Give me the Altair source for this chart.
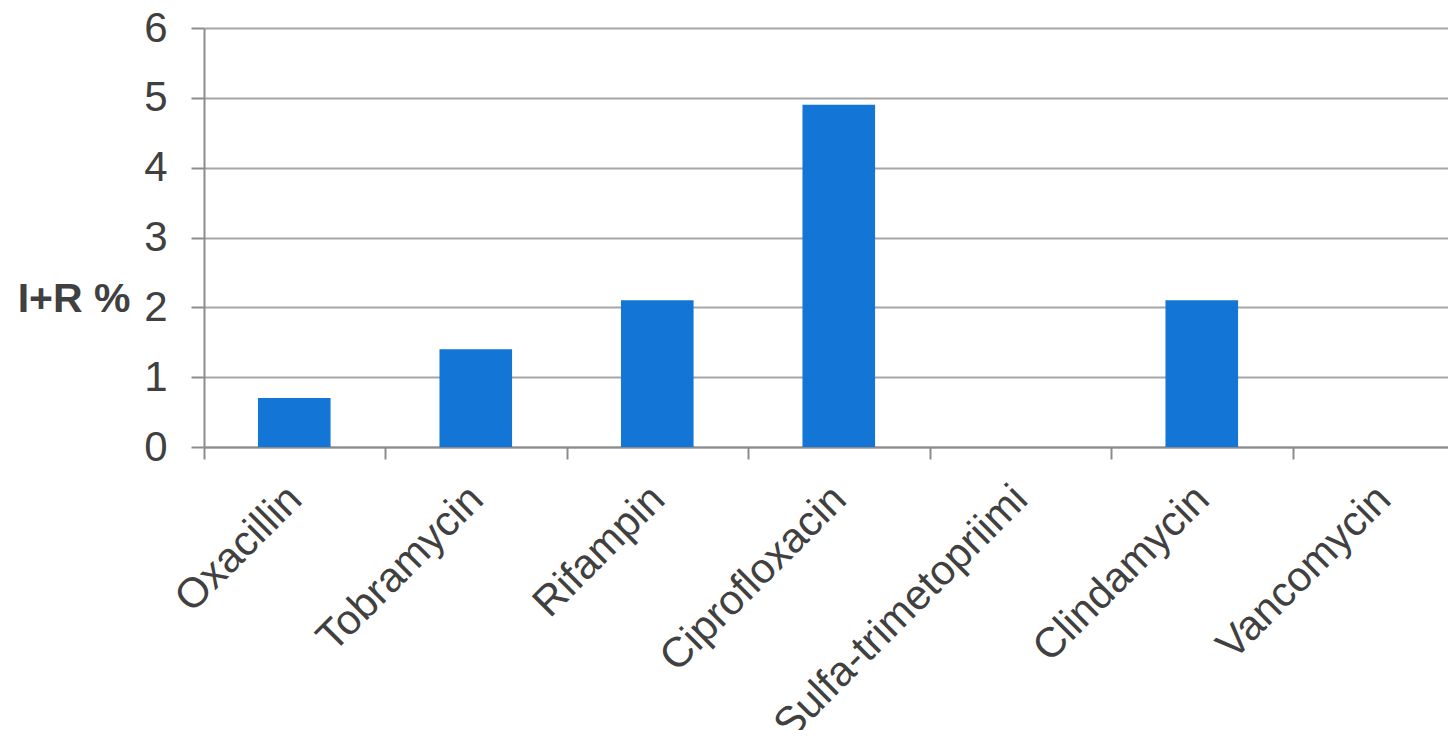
import altair as alt
import pandas as pd

drugs = ["Oxacillin", "Tobramycin", "Rifampin", "Ciprofloxacin",
         "Sulfa-trimetopriimi", "Clindamycin", "Vancomycin"]
values = [0.7, 1.4, 2.1, 4.9, 0.0, 2.1, 0.0]
y_ticks = [0, 1, 2, 3, 4, 5, 6]

df = pd.DataFrame({"drug": drugs, "value": values})

FONT = "Liberation Sans"
TXT = "#404040"
AX = "#8c8c8c"

chart = alt.Chart(df).mark_bar(color="#1375d5").encode(
    x=alt.X("drug:N", sort=drugs, title=None,
            scale=alt.Scale(paddingInner=0.6, paddingOuter=0.227, align=0.655),
            axis=alt.Axis(labelAngle=-45, labelAlign="right", labelBaseline="middle",
                          labelFontSize=42, labelColor=TXT, labelFont=FONT,
                          labelPadding=33, tickSize=12, tickColor=AX, tickWidth=2,
                          domainColor=AX, domainWidth=2, tickOffset=-90.75,
                          labelOffset=90.75, bandPosition=0.5, grid=False,
                          labelOverlap=False, labelLimit=1000)),
    y=alt.Y("value:Q", scale=alt.Scale(domain=[0, 6], nice=False),
            axis=alt.Axis(values=y_ticks, title="I+R %", titleAngle=0,
                          titleFontSize=41, titleFontWeight="bold", titleColor=TXT,
                          titleFont=FONT, titleAlign="right", titleBaseline="middle",
                          titleX=-74, titleY=271, labelFontSize=42, labelColor=TXT,
                          labelFont=FONT, labelPadding=24, tickSize=13, tickColor=AX,
                          tickWidth=2, domainColor=AX, domainWidth=2,
                          gridColor="#a6a6a6", gridWidth=2, format="d"))
).properties(
    width=1244, height=419,
    autosize=alt.AutoSizeParams(type="none"),
    padding={"left": 196, "top": 20, "right": 0, "bottom": 283},
).configure_view(stroke=None)

chart.save("out.html", embed_options={"renderer": "svg", "actions": False})
